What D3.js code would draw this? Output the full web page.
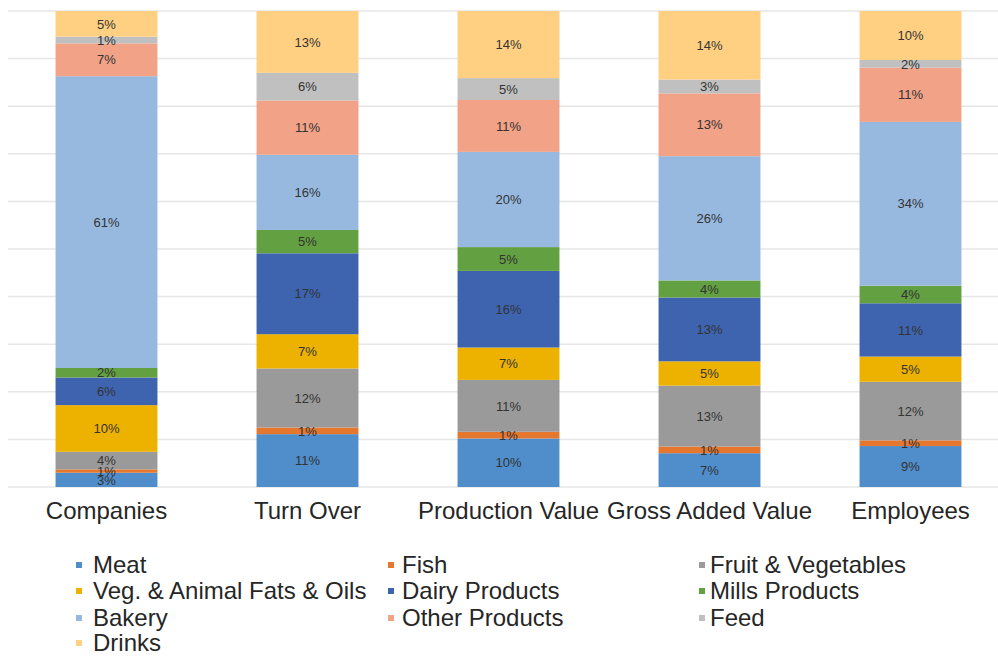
<!DOCTYPE html>
<html><head><meta charset="utf-8">
<script src="https://cdn.jsdelivr.net/npm/d3@7"></script>
<style>body{margin:0;background:#fff;} svg{display:block;}</style>
</head><body>
<svg id="chart" width="998" height="657"></svg>
<script>
const categories = ["Companies", "Turn Over", "Production Value", "Gross Added Value", "Employees"];
const seriesNames = ["Meat", "Fish", "Fruit & Vegetables", "Veg. & Animal Fats & Oils", "Dairy Products", "Mills Products", "Bakery", "Other Products", "Feed", "Drinks"];
const meat    = [3.0, 11.1, 10.2, 7.1, 8.6];
const fish    = [0.7, 1.4, 1.4, 1.4, 1.2];
const fruit   = [3.7, 12.4, 10.9, 12.8, 12.3];
const vegFats = [9.8, 7.2, 6.8, 5.1, 5.3];
const dairy   = [5.8, 17.0, 16.1, 13.4, 11.2];
const mills   = [2.0, 4.9, 5.0, 3.6, 3.7];
const bakery  = [61.3, 15.8, 20.0, 26.1, 34.4];
const other   = [6.9, 11.4, 10.9, 13.2, 11.4];
const feed    = [1.4, 5.8, 4.6, 2.9, 1.6];
const drinks  = [5.4, 13.0, 14.1, 14.4, 10.3];
const seriesValues = [meat, fish, fruit, vegFats, dairy, mills, bakery, other, feed, drinks];
const colors = ["#4F8DCB", "#E5772F", "#9A9A9A", "#EDB100", "#3E64B0", "#62A041", "#97B9E0", "#F2A287", "#C0C0C0", "#FFCF82"];
const gridTicks = [0, 10, 20, 30, 40, 50, 60, 70, 80, 90, 100];

const rows = categories.map((c, i) => {
  const r = {category: c};
  seriesNames.forEach((s, j) => r[s] = seriesValues[j][i]);
  return r;
});

const svg = d3.select("#chart");
const x = d3.scaleBand().domain(categories).range([6, 1011]).paddingInner(0.493).paddingOuter(0.2465);
const y = d3.scaleLinear().domain([0, 100]).range([487, 11]);
const color = d3.scaleOrdinal().domain(seriesNames).range(colors);

// gridlines
svg.append("g").selectAll("line").data(gridTicks).join("line")
  .attr("x1", 8).attr("x2", 998)
  .attr("y1", d => y(d)).attr("y2", d => y(d))
  .attr("stroke", "#e6e6e6").attr("stroke-width", 1.5);

const stack = d3.stack().keys(seriesNames);
const stacked = stack(rows);

const g = svg.append("g");
stacked.forEach(layer => {
  g.append("g").selectAll("rect").data(layer).join("rect")
    .attr("x", d => x(d.data.category))
    .attr("width", x.bandwidth())
    .attr("y", d => y(d[1]))
    .attr("height", d => y(d[0]) - y(d[1]))
    .attr("fill", color(layer.key));
});
stacked.forEach(layer => {
  g.append("g").selectAll("text").data(layer).join("text")
    .attr("x", d => x(d.data.category) + x.bandwidth() / 2)
    .attr("y", d => (y(d[0]) + y(d[1])) / 2)
    .attr("dy", "0.36em")
    .attr("text-anchor", "middle")
    .attr("font-family", "Liberation Sans, Arial, sans-serif")
    .attr("font-size", 13)
    .attr("fill", "#333")
    .text(d => Math.round(d[1] - d[0]) + "%");
});

// category axis
const xAxis = svg.append("g").attr("transform", "translate(0,487)")
  .call(d3.axisBottom(x).tickSize(0).tickPadding(9));
xAxis.select(".domain").remove();
xAxis.selectAll("text")
  .attr("font-family", "Liberation Sans, Arial, sans-serif")
  .attr("font-size", 24).attr("fill", "#262626").attr("dy", "0.95em");

// legend
const legendCols = [76, 388, 699];
const legendRows = [565, 591, 618, 643];
const leg = svg.append("g").selectAll("g").data(seriesNames).join("g")
  .attr("transform", (d, i) => `translate(${legendCols[i % 3]},${legendRows[Math.floor(i / 3)]})`);
leg.append("rect").attr("x", 0).attr("y", -3).attr("width", 6).attr("height", 6)
  .attr("fill", d => color(d));
leg.append("text").attr("x", (d, i) => [17, 14, 11][i % 3]).attr("y", 0).attr("dy", "0.35em")
  .attr("font-family", "Liberation Sans, Arial, sans-serif")
  .attr("font-size", 24).attr("fill", "#262626")
  .text(d => d);
</script>
</body></html>
